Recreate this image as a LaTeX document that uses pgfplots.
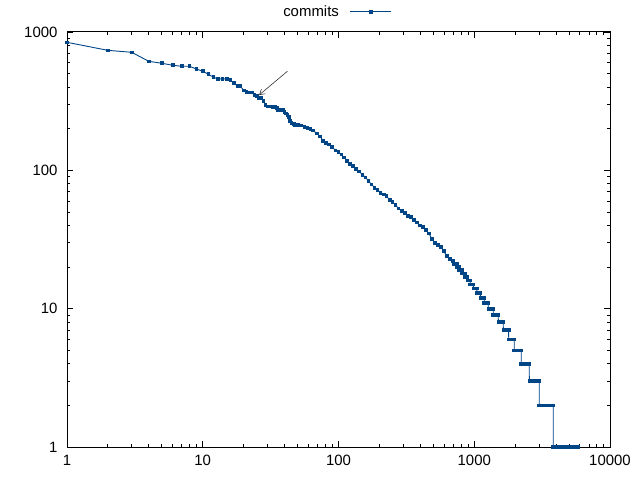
\documentclass[border=0pt]{standalone}
\usepackage{fontspec}
\setmainfont{Liberation Sans}
\usepackage{pgfplots}
\pgfplotsset{compat=1.18}
\usetikzlibrary{arrows.meta}
\definecolor{c1}{RGB}{0,69,134}
\begin{document}
\begin{tikzpicture}
\path[use as bounding box] (0,0) rectangle (640bp,480bp);
\begin{axis}[
  at={(67bp,33bp)}, anchor=south west,
  scale only axis, width=543bp, height=415bp,
  xmode=log, ymode=log,
  xmin=1, xmax=10000, ymin=1, ymax=1000,
  xtick={1,10,100,1000,10000}, xticklabels={1,10,100,1000,10000},
  ytick={1,10,100,1000}, yticklabels={1,10,100,1000},
  minor xtick={2,3,4,5,6,7,8,9,20,30,40,50,60,70,80,90,200,300,400,500,600,700,800,900,2000,3000,4000,5000,6000,7000,8000,9000},
  minor ytick={2,3,4,5,6,7,8,9,20,30,40,50,60,70,80,90,200,300,400,500,600,700,800,900},
  tick align=inside,
  major tick length=6.5bp, minor tick length=3.5bp,
  axis line style={line width=1bp},
  every tick/.style={black, line width=0.9bp},
  tick label style={font=\fontsize{15}{18}\selectfont},
  xticklabel style={yshift=-5bp},
  yticklabel style={xshift=-6bp},
  legend plot pos=right,
  legend style={draw=none, fill=none, at={(0.5985,1.049)}, anchor=east,
    font=\fontsize{15}{18}\selectfont, inner sep=0pt, column sep=9bp},
  legend image code/.code={\draw[mark repeat=2,mark phase=2] plot coordinates {(0bp,0bp) (20.5bp,0bp) (41bp,0bp)};},
]
\addplot[color=c1, line width=0.9bp, mark=square*, mark size=1.35bp, mark options={solid}] table {
x y
1 842
2 737
3 713
4 614
5 594
6 575
7 565
8 565
9 540
10 520
11 495
12 471
13 458
14 458
15 458
16 448
17 426
18 405
19 405
20 378
21 370
22 366
23 366
24 350
25 345
26 335
27 332
28 318
29 296
30 289
31 289
32 289
33 288
34 287
35 282
36 273
37 273
38 272
39 272
40 264
41 258
42 251
43 243
44 227
45 219
46 218
47 216
48 213
49 213
50 213
53 211
56 207
59 202
62 200
65 194
69 185
73 176
77 164
81 158
85 154
90 147
95 139
100 135
105 130
110 124
116 117
122 111
128 107
135 102
142 98
150 93
158 89
166 84
175 79
184 75
194 72
204 69
215 67
226 65
238 61
250 59
263 56
277 53
292 51
307 49
323 47
340 46
358 44
377 42
397 40
418 39
440 37
463 35
487 32
512 30
539 29
567 28
597 26
628 24
661 23
696 22
710 21
744 21
745 20
774 20
775 19
809 19
810 18
849 18
850 17
889 17
890 16
934 16
935 15
984 15
985 14
1044 14
1045 13
1077 13
1109 13
1110 12
1145 12
1184 12
1185 11
1225 11
1268 11
1269 10
1320 10
1380 10
1381 9
1440 9
1503 9
1504 8
1570 8
1636 8
1637 7
1710 7
1793 7
1794 6
1880 6
1971 6
1972 5
2050 5
2135 5
2220 5
2221 4
2310 4
2420 4
2543 4
2544 3
2660 3
2780 3
2900 3
3013 3
3014 2
3130 2
3250 2
3380 2
3510 2
3650 2
3821 2
3822 1
3970 1
4120 1
4280 1
4450 1
4620 1
4800 1
4990 1
5180 1
5380 1
5590 1
5791 1
};
\addlegendentry{commits}
\draw[-{Straight Barb[length=5bp,width=6bp]}, line width=0.6bp, black!80] (axis cs:42,520) -- (axis cs:26,350);
\end{axis}
\end{tikzpicture}
\end{document}
